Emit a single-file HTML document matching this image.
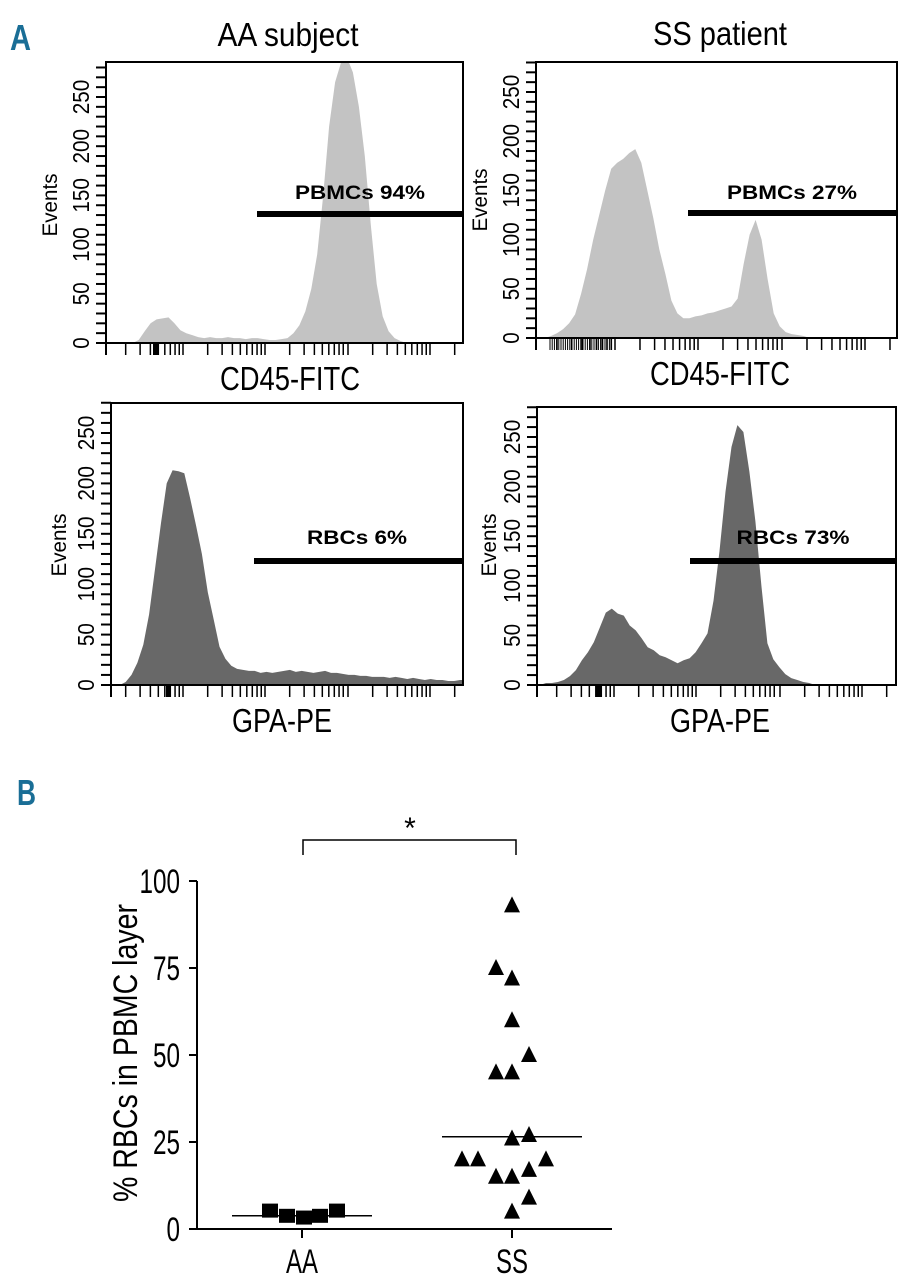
<!DOCTYPE html>
<html><head><meta charset="utf-8">
<style>
html,body{margin:0;padding:0;background:#fff;}
svg{display:block;}
text{font-family:"Liberation Sans Narrow","Liberation Sans",sans-serif;}
</style></head>
<body>
<svg id="fig" width="910" height="1280" viewBox="0 0 910 1280" xmlns="http://www.w3.org/2000/svg">
<defs>
<clipPath id="cTL"><rect x="106" y="62" width="357" height="281"/></clipPath>
<clipPath id="cTR"><rect x="536" y="62" width="361" height="276"/></clipPath>
<clipPath id="cBL"><rect x="111" y="403" width="352" height="282"/></clipPath>
<clipPath id="cBR"><rect x="537" y="407" width="359" height="278"/></clipPath>
</defs>
<text x="10" y="50" font-size="36" font-weight="bold" fill="#1a6e96" textLength="21" lengthAdjust="spacingAndGlyphs">A</text>
<text x="17" y="805" font-size="36" font-weight="bold" fill="#1a6e96" textLength="19" lengthAdjust="spacingAndGlyphs">B</text>
<text x="288" y="46" font-size="33" text-anchor="middle" textLength="141" lengthAdjust="spacingAndGlyphs">AA subject</text>
<text x="720" y="45" font-size="33" text-anchor="middle" textLength="134" lengthAdjust="spacingAndGlyphs">SS patient</text>
<g id="hists"></g>
<g id="scatter"></g>
</svg>
<script>
// ---------- Histogram data (events per bin, 60 bins each) ----------
const histTL = [0,0,0,0,0,3,12,20,24,25,26,20,13,10,8,6,5,6,5,5,6,5,5,4,5,5,4,3,3,4,5,10,18,32,55,90,150,220,265,285,290,275,240,190,120,60,27,12,5,2,0,0,0,0,0,0,0,0,0,0];
const histTR = [0,0,2,5,9,15,24,45,70,100,125,150,172,178,182,188,192,178,150,122,90,65,38,25,20,20,22,23,25,26,28,30,32,40,75,105,120,100,60,25,12,6,4,3,2,0,0,0,0,0,0,0,0,0,0,0,0,0,0,0];
const histBL = [0,0,3,10,22,40,70,115,160,200,213,212,210,185,158,130,92,65,38,26,19,16,15,14,14,12,13,12,13,14,15,13,14,13,12,13,14,12,12,11,10,10,9,9,8,8,8,7,8,7,6,7,6,5,6,5,5,4,4,5];
const histBR = [0,2,2,3,5,9,15,25,33,43,58,73,77,72,70,60,55,47,38,35,30,28,25,22,25,27,33,42,52,85,135,195,240,262,255,215,165,100,42,26,18,11,7,5,3,2,0,0,0,0,0,0,0,0,0,0,0,0,0,0];
const yTickLabels = ["0","50","100","150","200","250"];
const gateLabels = ["PBMCs 94%","PBMCs 27%","RBCs 6%","RBCs 73%"];

// ---------- Scatter data ----------
const groups = ["AA","SS"];
const aaValues = [5,3.5,3,3.5,5];
const ssValues = [93,75,72,60,50,45,45,26,27,20,20,20,17,15,15,9,5];
const medians = [3.8,26.5];
const scatterTicks = ["0","25","50","75","100"];

const NS="http://www.w3.org/2000/svg";
function mk(tag, attrs, parent){const e=document.createElementNS(NS,tag);for(const k in attrs)e.setAttribute(k,attrs[k]);parent.appendChild(e);return e;}

const hg=document.getElementById('hists');
const panels=[
 {data:histTL,x:106,y:62,w:357,b:343,k:0.984,fill:"#c3c3c3",clip:"cTL",gate:[257,463,214],glx:360,gly:199,glw:130,xlab:"CD45-FITC",xlx:290,xlw:140,dec:[101,183,265,348,430],thick:155,dense:null,ev:[53,205],name:"aa-cd45"},
 {data:histTR,x:536,y:62,w:361,b:338,k:0.984,fill:"#c3c3c3",clip:"cTR",gate:[688,897,213],glx:792,gly:199,glw:130,xlab:"CD45-FITC",xlx:720,xlw:140,dec:[532,615,698,782,865],thick:null,dense:[550,613],ev:[483,200],name:"ss-cd45"},
 {data:histBL,x:111,y:403,w:352,b:685,k:1.008,fill:"#686868",clip:"cBL",gate:[254,463,561],glx:357,gly:544,glw:100,xlab:"GPA-PE",xlx:282,xlw:100,dec:[101,183,265,348,430],thick:168,dense:null,ev:[62,545],name:"aa-gpa"},
 {data:histBR,x:537,y:407,w:359,b:685,k:0.992,fill:"#686868",clip:"cBR",gate:[690,896,561],glx:793,gly:544,glw:113,xlab:"GPA-PE",xlx:720,xlw:100,dec:[532,614,696,780,862],thick:598,dense:null,ev:[492,545],name:"ss-gpa"}
];
panels.forEach((p,pi)=>{
  const g=mk('g',{},hg);
  
  
  const n=p.data.length;
  const xc=i=>p.x+(i+0.5)*p.w/n;
  const ys=v=>p.b-v*p.k;
  let d="M"+p.x+","+p.b+" L"+p.x+","+ys(p.data[0]);
  p.data.forEach((v,i)=>{d+=" L"+xc(i).toFixed(1)+","+ys(v).toFixed(1);});
  d+=" L"+(p.x+p.w)+","+ys(p.data[n-1])+" L"+(p.x+p.w)+","+p.b+" Z";
  const area=mk('path',{d:d,fill:p.fill,'clip-path':"url(#"+p.clip+")"},g);
  
  
  const box=mk('rect',{x:p.x,y:p.y,width:p.w,height:p.b-p.y,fill:"none",stroke:"#000","stroke-width":2},g);
  
  
  for(let v=0;v<=280;v+=10){
    const y=ys(v); if(y<p.y-2) break;
    const t=mk('line',{x1:p.x-10,x2:p.x,y1:y,y2:y,stroke:"#000","stroke-width":2},g);
    
    
  }
  yTickLabels.forEach((lab,i)=>{
    const y=ys(i*50);const tx=p.x-17;
    const t=mk('text',{x:tx,y:y,'font-size':23,'text-anchor':'middle',transform:"rotate(-90 "+tx+" "+y+")",textLength:lab.length*11.5,lengthAdjust:"spacingAndGlyphs"},g);
    t.textContent=lab;
    
    
  });
  const ev=mk('text',{x:p.ev[0]+4,y:p.ev[1],'font-size':21,'text-anchor':'middle',transform:"rotate(-90 "+(p.ev[0]+4)+" "+p.ev[1]+")",textLength:63,lengthAdjust:"spacingAndGlyphs"},g);
  ev.textContent="Events";
  
  
  const decW=p.dec[1]-p.dec[0];
  p.dec.forEach(d0=>{
    for(let k=1;k<=9;k++){
      const x=d0+Math.log10(k)*decW;
      if(x<p.x-1||x>p.x+p.w+1) continue;
      const t=mk('line',{x1:x,x2:x,y1:p.b,y2:p.b+12,stroke:"#000","stroke-width":1.5},g);
      
      
    }
  });
  mk('line',{x1:p.x,x2:p.x,y1:p.b,y2:p.b+12,stroke:"#000","stroke-width":2},g);
  if(p.thick){const t=mk('rect',{x:p.thick-2,y:p.b,width:5,height:12,fill:"#000"},g);}
  if(p.dense){for(let x=p.dense[0];x<=p.dense[1];x+=2.2){mk('line',{x1:x,x2:x,y1:p.b,y2:p.b+12,stroke:"#000","stroke-width":1},g);}}
  const gl=mk('line',{x1:p.gate[0],x2:p.gate[1],y1:p.gate[2],y2:p.gate[2],stroke:"#000","stroke-width":6},g);
  
  
  const gt=mk('text',{x:p.glx,y:p.gly,'font-size':19,'font-weight':'bold','text-anchor':'middle',textLength:p.glw,lengthAdjust:"spacingAndGlyphs",style:"font-family:'Liberation Sans',sans-serif"},g);
  gt.textContent=gateLabels[pi];
  
  
  const xl=mk('text',{x:p.xlx,y:p.b+47,'font-size':33,'text-anchor':'middle',textLength:p.xlw,lengthAdjust:"spacingAndGlyphs"},g);
  xl.textContent=p.xlab;
  
  
});

// ---------- Scatter ----------
const sg=document.getElementById('scatter');
const X0=197, Y0=1229, Y100=881, XEND=612;
const sy=v=>Y0-(Y0-Y100)*v/100;
const groupX=[302,512];
const sx=i=>groupX[i];
let e=mk('line',{x1:X0,x2:X0,y1:Y100,y2:Y0,stroke:"#000","stroke-width":2},sg);


e=mk('line',{x1:X0-8,x2:XEND,y1:Y0,y2:Y0,stroke:"#000","stroke-width":2},sg);


scatterTicks.forEach(lab=>{
  const v=+lab; const y=sy(v);
  mk('line',{x1:X0-8,x2:X0,y1:y,y2:y,stroke:"#000","stroke-width":2},sg);
  const t=mk('text',{x:180,y:y+12,'font-size':34,'text-anchor':'end',textLength:lab.length*13.5,lengthAdjust:"spacingAndGlyphs"},sg);
  t.textContent=lab;
  
  
});
groups.forEach((gname,i)=>{
  const x=sx(i);
  mk('line',{x1:x,x2:x,y1:Y0,y2:Y0+9,stroke:"#000","stroke-width":2},sg);
  const t=mk('text',{x:x,y:1273,'font-size':34,'text-anchor':'middle',textLength:32,lengthAdjust:"spacingAndGlyphs"},sg);
  t.textContent=gname;
  
  
});
const yt=mk('text',{x:137,y:1053,'font-size':34,'text-anchor':'middle',transform:"rotate(-90 137 1053)",textLength:298,lengthAdjust:"spacingAndGlyphs"},sg);
yt.textContent="% RBCs in PBMC layer";


const aaOff=[-32,-15,2,18,35];
const ssOff=[0,-16,0,0,17,-16,0,0,17,-50,-34,34,17,-16,0,17,0];
aaValues.forEach((v,i)=>{
  const r=mk('rect',{x:sx(0)+aaOff[i]-8,y:sy(v)-8,width:16,height:14,fill:"#000"},sg);
  
  
});
ssValues.forEach((v,i)=>{
  const cx=sx(1)+ssOff[i], cy=sy(v);
  const p=mk('polygon',{points:(cx-8)+","+(cy+7)+" "+(cx+8)+","+(cy+7)+" "+cx+","+(cy-9),fill:"#000"},sg);
  
  
});
medians.forEach((m,i)=>{
  const l=mk('line',{x1:sx(i)-70,x2:sx(i)+70,y1:sy(m),y2:sy(m),stroke:"#000","stroke-width":1.5},sg);
  
  
});
const br=mk('path',{d:"M"+(sx(0)+1)+",855 L"+(sx(0)+1)+",840 L"+(sx(1)+4)+",840 L"+(sx(1)+4)+",855",fill:"none",stroke:"#000","stroke-width":1.5},sg);


const st=mk('text',{x:410,y:838,'font-size':30,'text-anchor':'middle',style:"font-family:'Liberation Sans',sans-serif"},sg);
st.textContent="*";


</script>
</body></html>
